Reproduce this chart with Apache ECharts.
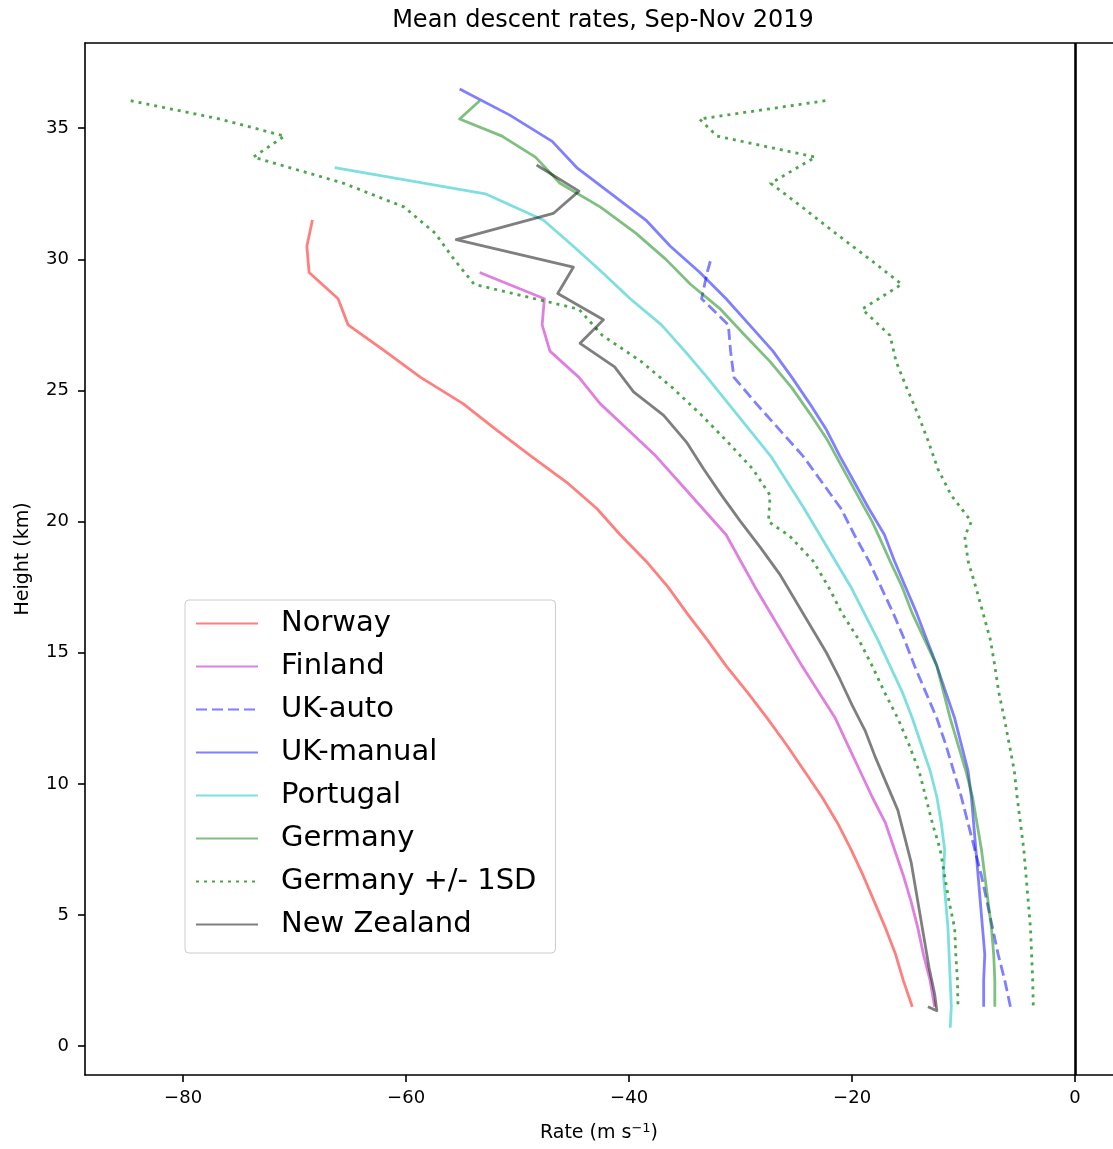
<!DOCTYPE html>
<html>
<head>
<meta charset="utf-8">
<script src="https://cdn.jsdelivr.net/npm/echarts@6/dist/echarts.min.js"></script>
<style>
  html, body { margin: 0; padding: 0; background: #fff; }
  #chart { width: 1113px; height: 1149px; }
</style>
</head>
<body>
<div id="chart"></div>
<script>
// Height levels (km), bottom to top, used by most profiles
const levelsKm = [1.5, 2.5, 3.5, 4.5, 5.5, 6.5, 7.5, 8.5, 9.5, 10.5, 11.5, 12.5,
  13.5, 14.5, 15.5, 16.5, 17.5, 18.5, 19.5, 20.5, 21.5, 22.5, 23.5, 24.5, 25.5,
  26.5, 27.5, 28.5, 29.5, 30.5, 31.5, 32.5, 33.5, 34.5, 35.5, 36.5];

// Mean descent rates (m/s), bottom to top
const norwayRate = [-14.6, -15.4, -16.1, -17.0, -18.0, -19.0, -20.1, -21.3, -22.7, -24.3,
  -25.9, -27.6, -29.4, -31.3, -33.0, -34.8, -36.5, -38.5, -40.8, -42.9, -45.6, -48.8,
  -51.9, -54.9, -58.7, -61.9, -65.2, -66.1, -68.7, -68.9, -68.4];

const finlandRate = [-12.6, -13.0, -13.6, -14.1, -14.7, -15.4, -16.2, -17.0, -18.2, -19.3,
  -20.4, -21.5, -23.0, -24.5, -25.9, -27.3, -28.7, -30.0, -31.3, -33.4, -35.5, -37.6,
  -40.1, -42.6, -44.5, -47.1, -47.8, -47.6, -53.4];

const ukAutoHeight = [1.5, 2.5, 3.5, 4.5, 5.5, 6.5, 7.5, 8.5, 9.5, 10.5, 11.5, 12.5, 13.5,
  14.5, 15.5, 16.5, 17.5, 18.5, 19.5, 20.5, 21.5, 22.5, 23.5, 24.5, 25.5, 26.5, 27.5,
  28.5, 29.5, 30.1];
const ukAutoRate = [-5.8, -6.3, -6.9, -7.4, -7.9, -8.4, -9.0, -9.6, -10.2, -10.9, -11.6,
  -12.4, -13.4, -14.4, -15.3, -16.3, -17.4, -18.5, -19.8, -21.0, -22.7, -24.4, -26.5,
  -28.6, -30.6, -30.9, -31.1, -33.5, -33.0, -32.6];

const ukManualRate = [-8.2, -8.2, -8.1, -8.3, -8.5, -8.7, -8.9, -9.1, -9.3, -9.6, -10.2,
  -10.8, -11.6, -12.4, -13.3, -14.2, -15.2, -16.2, -17.1, -18.5, -19.8, -21.1, -22.3,
  -23.8, -25.4, -27.1, -29.2, -31.3, -33.65, -36.3, -38.5, -41.6, -44.7, -46.9, -50.7, -55.2];

const portugalHeight = [0.7, 1.5, 2.5, 3.5, 4.5, 5.5, 6.5, 7.5, 8.5, 9.5, 10.5, 11.5, 12.5,
  13.5, 14.5, 15.5, 16.5, 17.5, 18.5, 19.5, 20.5, 21.5, 22.5, 23.5, 24.5, 25.5, 26.5,
  27.5, 28.5, 29.5, 30.5, 31.5, 32.5, 33.5];
const portugalRate = [-11.2, -11.1, -11.2, -11.3, -11.4, -11.6, -11.8, -11.7, -12.0, -12.4,
  -13.0, -13.8, -14.6, -15.5, -16.6, -17.7, -18.9, -20.1, -21.5, -22.9, -24.3, -25.8,
  -27.3, -29.2, -31.1, -33.0, -35.0, -37.1, -39.9, -42.4, -45.0, -47.7, -52.9, -66.4];

// Germany profile, top to bottom
const germanyHeight = [36.05, 35.35, 34.7, 33.9, 32.9, 32.0, 31.0, 30.0, 29.05, 28.1,
  27.1, 26.1, 25.1, 24.1, 23.1, 22.0, 21.0, 20.0, 19.45, 18.5, 17.5, 16.5, 15.5, 14.5,
  13.5, 12.5, 11.5, 10.5, 9.5, 8.5, 7.5, 6.5, 5.5, 4.5, 3.5, 2.5, 1.5];
const germanyRate = [-53.4, -55.2, -51.4, -48.4, -46.2, -42.6, -39.4, -36.7, -34.5, -31.8,
  -29.6, -27.35, -25.4, -23.75, -22.2, -20.8, -19.5, -18.2, -17.6, -16.6, -15.5, -14.6,
  -13.5, -12.4, -11.8, -11.2, -10.5, -9.8, -9.2, -8.8, -8.4, -8.1, -7.8, -7.5, -7.3, -7.2, -7.2];
const germanyMinusSD = [-84.7, -76.7, -70.9, -73.7, -65.6, -60.2, -57.4, -55.7, -53.9, -44.5,
  -42.4, -38.9, -36.1, -33.6, -31.3, -28.9, -27.35, -27.5, -25.6, -23.5, -22.1, -20.9,
  -19.4, -18.2, -17.1, -15.9, -14.9, -14.0, -13.4, -12.8, -12.1, -11.7, -11.3, -10.8,
  -10.7, -10.55, -10.5];
const germanyPlusSD = [-22.4, -33.7, -32.1, -23.3, -27.3, -24.5, -21.5, -18.4, -15.55, -19.1,
  -16.6, -16.05, -15.1, -14.1, -13.2, -12.3, -11.1, -9.3, -9.9, -9.6, -8.9, -8.25, -7.6,
  -7.2, -6.85, -6.35, -5.9, -5.45, -5.2, -4.9, -4.6, -4.4, -4.2, -4.0, -3.9, -3.8, -3.75];

// New Zealand profile, top to bottom
const nzHeight = [33.6, 32.6, 31.75, 30.75, 29.7, 28.7, 27.7, 26.8, 25.9, 24.95, 24.05,
  23.0, 22.0, 21.0, 20.0, 19.0, 18.0, 17.0, 16.0, 15.0, 14.0, 13.0, 12.0, 11.0, 10.0,
  9.0, 8.0, 7.0, 6.0, 5.0, 4.0, 3.0, 2.0, 1.35, 1.5];
const nzRate = [-48.3, -44.5, -46.8, -55.5, -45.0, -46.4, -42.3, -44.4, -41.3, -39.6, -36.9,
  -34.8, -33.3, -31.7, -30.0, -28.2, -26.5, -25.1, -23.7, -22.3, -21.1, -20.0, -18.8,
  -17.9, -16.9, -15.9, -15.3, -14.7, -14.3, -13.9, -13.5, -13.1, -12.6, -12.4, -13.2];

const xTicks = [-80, -60, -40, -20, 0];
const yTicks = [0, 5, 10, 15, 20, 25, 30, 35];

const legendNames = ['Norway', 'Finland', 'UK-auto', 'UK-manual', 'Portugal',
  'Germany', 'Germany +/- 1SD', 'New Zealand'];

const FONT = 'DejaVu Sans';

function pairs(rates, heights) {
  return rates.map((r, i) => [r, heights[i]]);
}

function profile(name, rates, heights, color, dash) {
  return {
    name: name,
    type: 'line',
    xAxisIndex: 0,
    data: pairs(rates, heights),
    symbol: 'none',
    smooth: false,
    clip: true,
    silent: true,
    lineStyle: { color: color, width: 2.8, type: dash || 'solid', cap: 'butt', join: 'round' },
    itemStyle: { color: color },
    emphasis: { disabled: true }
  };
}

const DASHED = [11, 5];
const DOTTED = [3, 5];

const series = [
  profile('Norway', norwayRate, levelsKm, 'rgba(255,0,0,0.5)'),
  profile('Finland', finlandRate, levelsKm, 'rgba(191,0,191,0.5)'),
  profile('UK-auto', ukAutoRate, ukAutoHeight, 'rgba(0,0,255,0.5)', DASHED),
  profile('UK-manual', ukManualRate, levelsKm, 'rgba(0,0,255,0.5)'),
  profile('Portugal', portugalRate, portugalHeight, 'rgba(0,191,191,0.5)'),
  profile('Germany', germanyRate, germanyHeight, 'rgba(0,128,0,0.5)'),
  profile('Germany +/- 1SD', germanyMinusSD, germanyHeight, 'rgba(0,128,0,0.7)', DOTTED),
  profile('Germany +/- 1SD', germanyPlusSD, germanyHeight, 'rgba(0,128,0,0.7)', DOTTED),
  profile('New Zealand', nzRate, nzHeight, 'rgba(0,0,0,0.5)')
];

// zero-rate reference line
series[0].markLine = {
  silent: true,
  symbol: ['none', 'none'],
  label: { show: false },
  lineStyle: { color: '#000', width: 2.6, type: 'solid' },
  emphasis: { disabled: true },
  data: [{ xAxis: 0 }]
};

const X_MIN = -88.8;
const X_MAX = 3.4;

const chart = echarts.init(document.getElementById('chart'), null, { renderer: 'canvas' });

chart.setOption({
  animation: false,
  backgroundColor: '#fff',
  title: {
    text: 'Mean descent rates, Sep-Nov 2019',
    left: 603,
    top: 9,
    padding: 0,
    textAlign: 'center',
    textStyle: { fontFamily: FONT, fontSize: 24, fontWeight: 'normal', color: '#000' }
  },
  grid: {
    left: 85, top: 43, width: 1028, height: 1032, show: false
  },
  legend: {
    data: legendNames,
    orient: 'vertical',
    left: 185,
    top: 600,
    itemWidth: 62,
    itemHeight: 14,
    itemGap: 0,
    padding: [2, 19, 7, 10],
    selectedMode: false,
    backgroundColor: 'rgba(255,255,255,0.8)',
    borderColor: '#cccccc',
    borderWidth: 1,
    borderRadius: 4,
    itemStyle: { opacity: 0 },
    textStyle: {
      fontFamily: FONT, fontSize: 29, color: '#000',
      lineHeight: 43, padding: [0, 0, 0, 18]
    }
  },
  xAxis: [{
    type: 'value',
    min: X_MIN,
    max: X_MAX,
    position: 'bottom',
    name: 'Rate (m s{sup|\u22121})',
    nameLocation: 'middle',
    nameGap: 47,
    nameTextStyle: {
      fontFamily: FONT, fontSize: 19, color: '#000',
      rich: { sup: { fontFamily: FONT, fontSize: 13, color: '#000', padding: [0, 0, 10, 0] } }
    },
    axisLine: { show: true, onZero: false, lineStyle: { color: '#000', width: 1.6 } },
    axisTick: { show: true, inside: false, length: 7, customValues: xTicks,
      lineStyle: { color: '#000', width: 1.6 } },
    axisLabel: {
      customValues: xTicks, margin: 14, fontFamily: FONT, fontSize: 18, color: '#000',
      formatter: v => (v < 0 ? '\u2212' + Math.abs(v) : String(v))
    },
    splitLine: { show: false }
  }, {
    // top frame edge
    type: 'value',
    min: X_MIN,
    max: X_MAX,
    position: 'top',
    axisLine: { show: true, onZero: false, lineStyle: { color: '#000', width: 1.6 } },
    axisTick: { show: false },
    axisLabel: { show: false },
    splitLine: { show: false }
  }],
  yAxis: {
    type: 'value',
    min: -1.1,
    max: 38.25,
    name: 'Height (km)',
    nameLocation: 'middle',
    nameRotate: 90,
    nameGap: 52,
    nameTextStyle: { fontFamily: FONT, fontSize: 19, color: '#000' },
    axisLine: { show: true, onZero: false, lineStyle: { color: '#000', width: 1.6 } },
    axisTick: { show: true, inside: false, length: 7, customValues: yTicks,
      lineStyle: { color: '#000', width: 1.6 } },
    axisLabel: {
      customValues: yTicks, margin: 16, fontFamily: FONT, fontSize: 18, color: '#000'
    },
    splitLine: { show: false }
  },
  series: series
});
</script>
</body>
</html>
